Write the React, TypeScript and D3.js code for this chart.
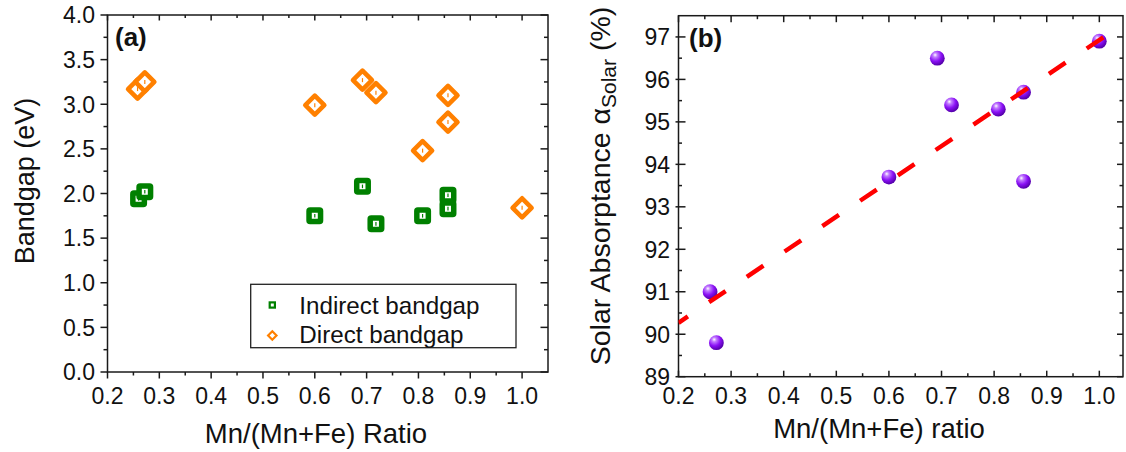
import React from "react";
import * as d3 from "d3";

// ---- Panel (a) data ----
const indirectRatio = [0.26, 0.272, 0.6, 0.692, 0.718, 0.808, 0.857, 0.857];
const indirectGap = [1.94, 2.02, 1.75, 2.08, 1.66, 1.75, 1.98, 1.83];
const directRatio = [0.258, 0.272, 0.6, 0.692, 0.718, 0.808, 0.857, 0.857, 1.0];
const directGap = [3.17, 3.25, 2.99, 3.27, 3.13, 2.48, 3.1, 2.8, 1.84];

// ---- Panel (b) data ----
const absRatio = [0.26, 0.272, 0.6, 0.692, 0.719, 0.808, 0.856, 0.856, 1.0];
const absValue = [91.0, 89.8, 93.7, 96.5, 95.4, 95.3, 95.7, 93.6, 96.9];
const fitRatio = [0.2, 1.016];
const fitValue = [90.27, 97.06];

const xTicks = [0.2, 0.3, 0.4, 0.5, 0.6, 0.7, 0.8, 0.9, 1.0];
const xMinor = [0.25, 0.35, 0.45, 0.55, 0.65, 0.75, 0.85, 0.95];
const yTicksA = [0, 0.5, 1.0, 1.5, 2.0, 2.5, 3.0, 3.5, 4.0];
const yMinorA = [0.25, 0.75, 1.25, 1.75, 2.25, 2.75, 3.25, 3.75];
const yTicksB = [89, 90, 91, 92, 93, 94, 95, 96, 97];
const yMinorB = [89.5, 90.5, 91.5, 92.5, 93.5, 94.5, 95.5, 96.5];

const FONT = "'Liberation Sans', Arial, Helvetica, sans-serif";
const GREEN = "#008000";
const ORANGE = "#ff8000";

function Square({ x, y, s = 11.5, w = 5.5 }: { x: number; y: number; s?: number; w?: number }) {
  return (
    <g>
      <rect x={x - s / 2} y={y - s / 2} width={s} height={s} fill="#fff" stroke={GREEN} strokeWidth={w} rx={1} />
      <line x1={x} x2={x} y1={y - 1.8} y2={y + 1.8} stroke={GREEN} strokeWidth={1.2} />
    </g>
  );
}

function Diamond({ x, y, r = 9.5, w = 4.6 }: { x: number; y: number; r?: number; w?: number }) {
  return (
    <g>
      <path d={`M${x},${y - r}L${x + r},${y}L${x},${y + r}L${x - r},${y}Z`} fill="#fff" stroke={ORANGE} strokeWidth={w} strokeLinejoin="round" />
      <line x1={x} x2={x} y1={y - 2} y2={y + 2} stroke={ORANGE} strokeWidth={1.2} />
    </g>
  );
}

export default function App() {
  // Panel a geometry
  const aL = 107.5, aR = 548, aT = 15, aB = 372;
  const xa = d3.scaleLinear().domain([0.2, 1.05]).range([aL, aR]);
  const ya = d3.scaleLinear().domain([0, 4.0]).range([aB, aT]);
  // Panel b geometry
  const bL = 678.5, bR = 1123, bT = 15.7, bB = 376.7;
  const xb = d3.scaleLinear().domain([0.2, 1.045]).range([bL, bR]);
  const yb = d3.scaleLinear().domain([89, 97.5]).range([bB, bT]);

  const fitLine = d3.line<number>().x((d, i) => xb(fitRatio[i])).y((d) => yb(d));

  const axisStroke = "#1a1a1a";

  return (
    <svg width={1126} height={452} style={{ position: "absolute", left: 0, top: 0, background: "#fff" }} fontFamily={FONT}>
      <defs>
        <radialGradient id="sphere" cx="38%" cy="32%" r="68%" fx="35%" fy="28%">
          <stop offset="0%" stopColor="#ffffff" />
          <stop offset="22%" stopColor="#c27dff" />
          <stop offset="60%" stopColor="#8a10f5" />
          <stop offset="100%" stopColor="#5300a8" />
        </radialGradient>
        <clipPath id="clipB">
          <rect x={bL} y={bT} width={bR - bL} height={bB - bT} />
        </clipPath>
      </defs>

      {/* ================= Panel (a) ================= */}
      <g>
        <rect x={aL} y={aT} width={aR - aL} height={aB - aT} fill="none" stroke={axisStroke} strokeWidth={1.5} />
        {xTicks.map((t) => (
          <g key={"axm" + t}>
            <line x1={xa(t)} x2={xa(t)} y1={aB} y2={aB + 6.5} stroke={axisStroke} strokeWidth={1.5} />
            <line x1={xa(t)} x2={xa(t)} y1={aT} y2={aT + 5.5} stroke={axisStroke} strokeWidth={1.5} />
            <text x={xa(t)} y={403.5} textAnchor="middle" fontSize={23} fill="#111">{t.toFixed(1)}</text>
          </g>
        ))}
        {xMinor.map((t) => (
          <g key={"axn" + t}>
            <line x1={xa(t)} x2={xa(t)} y1={aB} y2={aB + 3.5} stroke={axisStroke} strokeWidth={1.5} />
            <line x1={xa(t)} x2={xa(t)} y1={aT} y2={aT + 3} stroke={axisStroke} strokeWidth={1.5} />
          </g>
        ))}
        {yTicksA.map((t) => (
          <g key={"aym" + t}>
            <line x1={aL - 7} x2={aL} y1={ya(t)} y2={ya(t)} stroke={axisStroke} strokeWidth={1.5} />
            <line x1={aR - 7.5} x2={aR} y1={ya(t)} y2={ya(t)} stroke={axisStroke} strokeWidth={1.5} />
            <text x={95} y={ya(t)} dy="0.36em" textAnchor="end" fontSize={23} fill="#111">{t.toFixed(1)}</text>
          </g>
        ))}
        {yMinorA.map((t) => (
          <g key={"ayn" + t}>
            <line x1={aL - 4} x2={aL} y1={ya(t)} y2={ya(t)} stroke={axisStroke} strokeWidth={1.5} />
            <line x1={aR - 4} x2={aR} y1={ya(t)} y2={ya(t)} stroke={axisStroke} strokeWidth={1.5} />
          </g>
        ))}
        <text x={316} y={443} textAnchor="middle" fontSize={27.5} fill="#111">Mn/(Mn+Fe) Ratio</text>
        <text transform={`translate(34,181) rotate(-90)`} textAnchor="middle" fontSize={27} fill="#111">Bandgap (eV)</text>
        <text x={115} y={46} fontSize={26} fontWeight="bold" fill="#111">(a)</text>

        {directRatio.map((r, i) => (
          <Diamond key={"d" + i} x={xa(r)} y={ya(directGap[i])} />
        ))}
        {indirectRatio.map((r, i) => (
          <Square key={"s" + i} x={xa(r)} y={ya(indirectGap[i])} />
        ))}

        {/* legend */}
        <rect x={250.7} y={284.3} width={265.3} height={63.4} fill="#fff" stroke="#222" strokeWidth={1.3} />
        <g>
          <rect x={272.3 - 2.6} y={305 - 2.6} width={5.2} height={5.2} fill="#fff" stroke={GREEN} strokeWidth={2.2} />
          <text x={299.3} y={313.5} fontSize={24.2} fill="#111">Indirect bandgap</text>
          <path d={`M272.3,${335.5 - 4.2}L${272.3 + 4.2},335.5L272.3,${335.5 + 4.2}L${272.3 - 4.2},335.5Z`} fill="#fff" stroke={ORANGE} strokeWidth={2.2} />
          <text x={299.3} y={343} fontSize={24.2} fill="#111">Direct bandgap</text>
        </g>
      </g>

      {/* ================= Panel (b) ================= */}
      <g>
        <rect x={bL} y={bT} width={bR - bL} height={bB - bT} fill="none" stroke={axisStroke} strokeWidth={1.5} />
        {xTicks.map((t) => (
          <g key={"bxm" + t}>
            <line x1={xb(t)} x2={xb(t)} y1={bB} y2={bB - 6} stroke={axisStroke} strokeWidth={1.5} />
            <line x1={xb(t)} x2={xb(t)} y1={bT} y2={bT + 6.5} stroke={axisStroke} strokeWidth={1.5} />
            <text x={xb(t)} y={403.5} textAnchor="middle" fontSize={23} fill="#111">{t.toFixed(1)}</text>
          </g>
        ))}
        {xMinor.map((t) => (
          <g key={"bxn" + t}>
            <line x1={xb(t)} x2={xb(t)} y1={bB} y2={bB - 3.5} stroke={axisStroke} strokeWidth={1.5} />
            <line x1={xb(t)} x2={xb(t)} y1={bT} y2={bT + 3.5} stroke={axisStroke} strokeWidth={1.5} />
          </g>
        ))}
        {yTicksB.map((t) => (
          <g key={"bym" + t}>
            <line x1={bL - 3} x2={bL + 7} y1={yb(t)} y2={yb(t)} stroke={axisStroke} strokeWidth={1.5} />
            <line x1={bR - 6} x2={bR} y1={yb(t)} y2={yb(t)} stroke={axisStroke} strokeWidth={1.5} />
            <text x={670} y={yb(t)} dy="0.36em" textAnchor="end" fontSize={23} fill="#111">{t}</text>
          </g>
        ))}
        {yMinorB.map((t) => (
          <g key={"byn" + t}>
            <line x1={bL} x2={bL + 3.5} y1={yb(t)} y2={yb(t)} stroke={axisStroke} strokeWidth={1.5} />
            <line x1={bR - 3.5} x2={bR} y1={yb(t)} y2={yb(t)} stroke={axisStroke} strokeWidth={1.5} />
          </g>
        ))}
        <text x={879} y={438} textAnchor="middle" fontSize={27.5} fill="#111">Mn/(Mn+Fe) ratio</text>
        <text transform={`translate(610,186) rotate(-90)`} textAnchor="middle" fontSize={28.5} fill="#111">
          Solar Absorptance α<tspan fontSize={21} dy={6}>Solar</tspan><tspan dy={-6}> (%)</tspan>
        </text>
        <text x={689} y={47} fontSize={26} fontWeight="bold" fill="#111">(b)</text>

        {absRatio.map((r, i) => (
          <circle key={"c" + i} cx={xb(r)} cy={yb(absValue[i])} r={7.4} fill="url(#sphere)" />
        ))}
        <path
          d={fitLine(fitValue) || ""}
          fill="none"
          stroke="#ff0000"
          strokeWidth={4.5}
          strokeDasharray="20 25.5"
          strokeDashoffset={8.7}
          clipPath="url(#clipB)"
        />
      </g>
    </svg>
  );
}
